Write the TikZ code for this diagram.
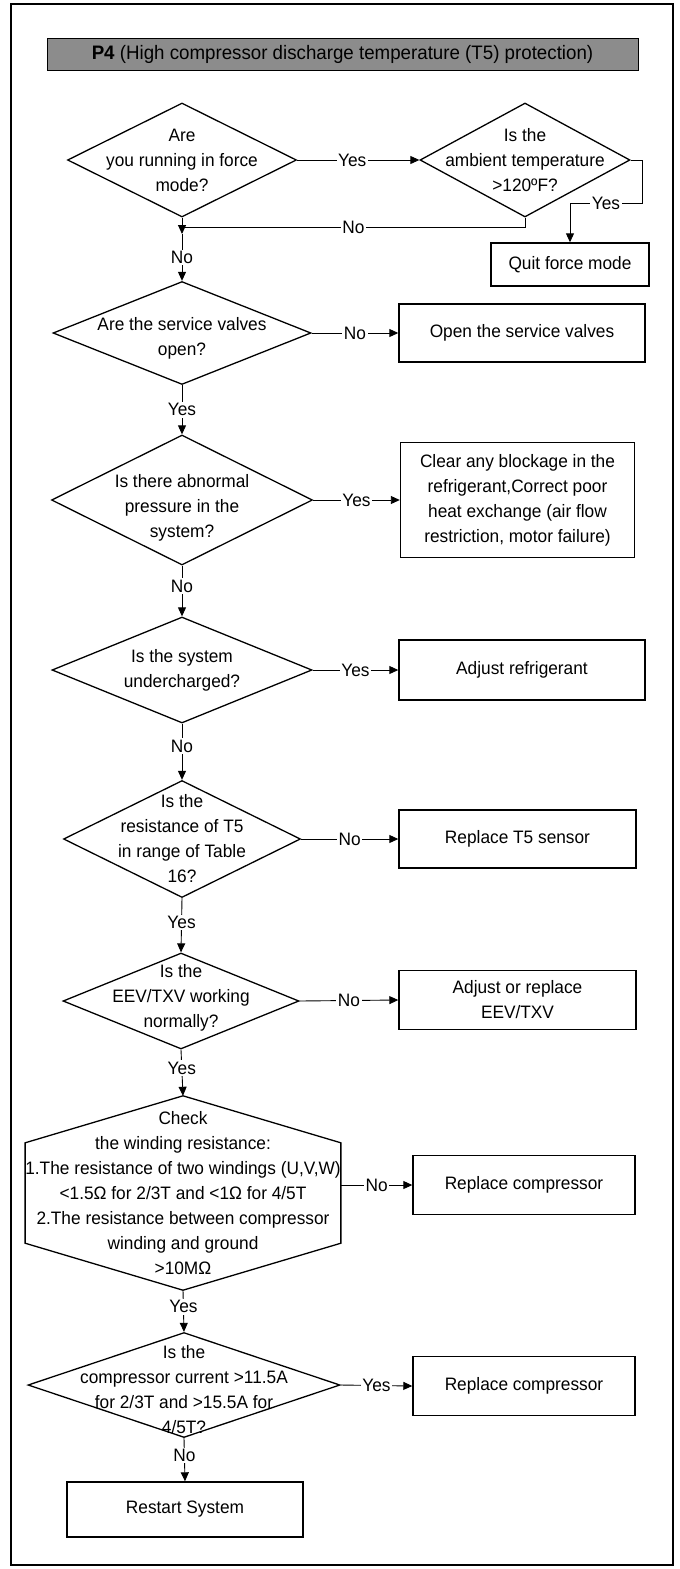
\documentclass[tikz,border=0pt]{standalone}
\usepackage{fontspec}
\setmainfont{Liberation Sans}[FakeStretch=0.96]
\usetikzlibrary{shapes.geometric,arrows.meta}
\definecolor{bargray}{RGB}{140,140,140}
\begin{document}
\begin{tikzpicture}[x=1pt,y=-1pt,font=\fontsize{18}{25}\selectfont]
	\tikzset{dia/.style={draw,diamond,line width=1.3pt,inner sep=0pt},
		qtxt/.style={align=center,inner sep=0pt},
		act/.style={draw,line width=1.4pt,align=center,inner sep=0pt},
		arr/.style={-{Triangle[length=9pt,width=8pt]},line width=0.9pt},
		lne/.style={line width=0.9pt},
		lab/.style={fill=white,inner sep=1.5pt}}
	\useasboundingbox (0,0) rectangle (680,1569);
	\draw[line width=1.4pt] (11,4) rectangle (673,1565);
	\node[draw,fill=bargray,line width=1pt,minimum width=591pt,minimum height=32pt,inner sep=0pt,font=\fontsize{19.5}{24}\selectfont] (title) at (342.5,54) {\textbf{P4} (High compressor discharge temperature (T5) protection)};
	% questions
	\node[dia,minimum width=229pt,minimum height=114pt] (d1) at (182,160) {};
	\node[qtxt] (d1t) at (d1) {Are\\you running in force\\mode?};
	\node[dia,minimum width=210pt,minimum height=114pt] (d2) at (525,160) {};
	\node[qtxt] (d2t) at (d2) {Is the\\ambient temperature\\>120ºF?};
	\node[dia,minimum width=258pt,minimum height=103pt] (d3) at (182,333) {};
	\node[qtxt] (d3t) at ([yshift=-5pt]d3) {Are the service valves\\open?};
	\node[dia,minimum width=261pt,minimum height=130pt] (d4) at (182,500) {};
	\node[qtxt] (d4t) at ([yshift=-8pt]d4) {Is there abnormal\\pressure in the\\system?};
	\node[dia,minimum width=260pt,minimum height=106pt] (d5) at (182,670) {};
	\node[qtxt] (d5t) at (d5) {Is the system\\undercharged?};
	\node[dia,minimum width=237pt,minimum height=117pt] (d6) at (182,839) {};
	\node[qtxt] (d6t) at (d6) {Is the\\resistance of T5\\in range of Table\\16?};
	\node[dia,minimum width=236pt,minimum height=96pt] (d7) at (181,1001) {};
	\node[qtxt] (d7t) at ([yshift=3pt]d7) {Is the\\EEV/TXV working\\normally?};
	\node[qtxt,minimum width=314pt,minimum height=194pt] (hex) at (183,1193) {Check\\the winding resistance:\\1.The resistance of two windings (U,V,W)\\<1.5Ω for 2/3T and <1Ω for 4/5T\\2.The resistance between compressor\\winding and ground\\>10MΩ};
	\draw[line width=1.3pt] (hex.north) -- ([yshift=-47pt]hex.north east) -- ([yshift=47pt]hex.south east) -- (hex.south) -- ([yshift=47pt]hex.south west) -- ([yshift=-47pt]hex.north west) -- cycle;
	\node[dia,minimum width=312pt,minimum height=105pt] (d8) at (184,1385) {};
	\node[qtxt] (d8t) at ([yshift=-5pt]d8) {Is the\\compressor current >11.5A\\for 2/3T and >15.5A for\\4/5T?};
	% actions
	\node[act,minimum width=158pt,minimum height=43pt] (quit) at (570,264.5) {Quit force mode};
	\node[act,minimum width=246pt,minimum height=58pt] (open) at (522,333) {Open the service valves};
	\node[act,minimum width=234pt,minimum height=115pt] (clear) at (517.5,500) {Clear any blockage in the\\refrigerant,Correct poor\\heat exchange (air flow\\restriction, motor failure)};
	\node[act,minimum width=246pt,minimum height=60pt] (adj) at (522,670) {Adjust refrigerant};
	\node[act,minimum width=237pt,minimum height=58pt] (tfive) at (517.5,839) {Replace T5 sensor};
	\node[act,minimum width=237pt,minimum height=59pt] (eev) at (517.5,1000) {Adjust or replace\\EEV/TXV};
	\node[act,minimum width=222pt,minimum height=59pt] (rc1) at (524,1185) {Replace compressor};
	\node[act,minimum width=222pt,minimum height=59pt] (rc2) at (524,1386) {Replace compressor};
	\node[act,minimum width=236pt,minimum height=55pt] (rst) at (185,1509.5) {Restart System};
	% connectors
	\coordinate (q1) at (642,203);
	\coordinate (j0) at (182,227);
	\coordinate (j1) at (182,234);
	\draw[arr] (d1.east) -- node[lab,pos=0.45]{Yes} (d2.west);
	\draw[arr] (d2.east) -| (q1) -| node[lab,pos=0.25]{Yes} (quit.north);
	\draw[lne] (d2.south) |- node[lab,pos=0.75]{No} (j0);
	\draw[arr] (d1.south) -- (j1);
	\draw[arr] (j1) -- node[lab]{No} (d3.north);
	\draw[arr] (d3.east) -- node[lab]{No} (open.west);
	\draw[arr] (d3.south) -- node[lab]{Yes} (d4.north);
	\draw[arr] (d4.east) -- node[lab]{Yes} (clear.west);
	\draw[arr] (d4.south) -- node[lab,pos=0.4]{No} (d5.north);
	\draw[arr] (d5.east) -- node[lab]{Yes} (adj.west);
	\draw[arr] (d5.south) -- node[lab,pos=0.4]{No} (d6.north);
	\draw[arr] (d6.east) -- node[lab]{No} (tfive.west);
	\draw[arr] (d6.south) -- node[lab,pos=0.45]{Yes} (d7.north);
	\draw[arr] (d7.east) -- node[lab]{No} (eev.west);
	\draw[arr] (d7.south) -- node[lab,pos=0.4]{Yes} (hex.north);
	\draw[arr] (rc1.west -| hex.east) -- node[lab]{No} (rc1.west);
	\draw[arr] (hex.south) -- node[lab,pos=0.4]{Yes} (d8.north);
	\draw[arr] (d8.east) -- node[lab]{Yes} (rc2.west);
	\draw[arr] (d8.south) -- node[lab,pos=0.4]{No} (rst.north);
\end{tikzpicture}
\end{document}
